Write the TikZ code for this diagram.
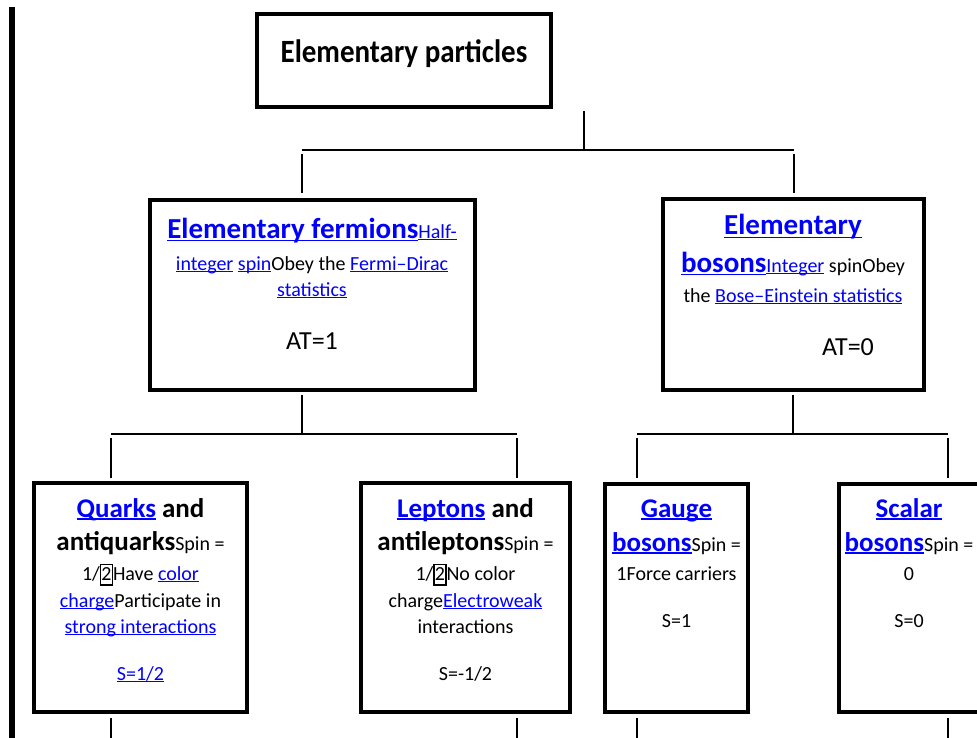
\documentclass[tikz,border=0pt]{standalone}
\usepackage{fontspec}
\setmainfont{Carlito}
\usepackage{graphicx}
\definecolor{linkblue}{RGB}{0,0,255}
\newsavebox{\lnkbox}
\newcommand{\headfont}{\fontsize{27}{32}\selectfont\bfseries}
\newcommand{\topfont}{\fontsize{29}{34}\selectfont\bfseries}
\newcommand{\hlink}[1]{\textcolor{linkblue}{\sbox{\lnkbox}{#1}\rlap{\rule[-0.12em]{\wd\lnkbox}{0.065em}}\usebox{\lnkbox}}}
\newcommand{\hhead}[1]{{\headfont\hlink{#1}}}
\newcommand{\htop}[1]{{\topfont\hlink{#1}}}
\newcommand{\hbold}[1]{{\headfont #1}}
\newcommand{\halfbox}{{\setlength{\fboxsep}{0.3pt}\setlength{\fboxrule}{1.2pt}\fbox{\rule[-4pt]{0pt}{19pt}2}}}

\begin{document}
\begin{tikzpicture}[x=1pt,y=-1pt,
    box/.style={draw,line width=4pt,inner sep=0pt},
    txt/.style={anchor=base,inner sep=0pt,font=\fontsize{20}{24}\selectfont},
    big/.style={txt,font=\fontsize{26}{30}\selectfont},
    conn/.style={line width=1.6pt}]
  \useasboundingbox (0,0) rectangle (977,738);
  \draw[line width=6.5pt] (12,7) -- (12,738);

  % boxes
  \node[box,minimum width=294pt,minimum height=93pt] (root) at (404,60.5) {};
  \node[box,minimum width=325pt,minimum height=190pt] (fermions) at (312.5,295) {};
  \node[box,minimum width=261pt,minimum height=191pt] (bosons) at (793.5,294.5) {};
  \node[box,minimum width=213pt,minimum height=229pt] (quarks) at (140.5,597.5) {};
  \node[box,minimum width=209pt,minimum height=229pt] (leptons) at (465.5,597.5) {};
  \node[box,minimum width=143pt,minimum height=228pt] (gauge) at (676.5,598) {};
  \node[box,minimum width=140pt,minimum height=228pt] (scalar) at (909,598) {};

  % texts
  \node[txt] (roottxt) at (404,63) {\scalebox{1}[1.12]{{\topfont Elementary particles}}};

  \node[txt] (fe1) at (312,238) {\htop{Elementary fermions}\hlink{Half-}};
  \node[txt] (fe2) at (312,270) {\hlink{integer} \hlink{spin}Obey the \hlink{Fermi–Dirac}};
  \node[txt] (fe3) at (312,296) {\hlink{statistics}};
  \node[big] (fe4) at (312,349) {AT=1};

  \node[txt] (bo1) at (793,235) {\htop{Elementary}};
  \node[txt] (bo2) at (793,272) {\htop{bosons}\hlink{Integer} spinObey};
  \node[txt] (bo3) at (793,302) {the \hlink{Bose–Einstein statistics}};
  \node[big] (bo4) at (848,355) {AT=0};

  \node[txt] (qu1) at (140.5,517) {\hhead{Quarks}\hbold{ and}};
  \node[txt] (qu2) at (140.5,550) {\hbold{antiquarks}Spin =};
  \node[txt] (qu3) at (140.5,580) {1/\halfbox Have \hlink{color}};
  \node[txt] (qu4) at (140.5,607) {\hlink{charge}Participate in};
  \node[txt] (qu5) at (140.5,633) {\hlink{strong interactions}};
  \node[txt] (qu6) at (140.5,680) {\hlink{S=1/2}};

  \node[txt] (le1) at (465.5,517) {\hhead{Leptons}\hbold{ and}};
  \node[txt] (le2) at (465.5,550) {\hbold{antileptons}Spin =};
  \node[txt] (le3) at (465.5,580) {1/\halfbox No color};
  \node[txt] (le4) at (465.5,607) {charge\hlink{Electroweak}};
  \node[txt] (le5) at (465.5,633) {interactions};
  \node[txt] (le6) at (465.5,680) {S=-1/2};

  \node[txt] (ga1) at (676.5,517) {\hhead{Gauge}};
  \node[txt] (ga2) at (676.5,551) {\hhead{bosons}Spin =};
  \node[txt] (ga3) at (676.5,580) {1Force carriers};
  \node[txt] (ga4) at (676.5,627) {S=1};

  \node[txt] (sc1) at (909,517) {\hhead{Scalar}};
  \node[txt] (sc2) at (909,551) {\hhead{bosons}Spin =};
  \node[txt] (sc3) at (909,580) {0};
  \node[txt] (sc4) at (909,627) {S=0};

  % tree lines
  \coordinate (rootstub) at (584,111);
  \coordinate (rootbar) at (584,150);
  \coordinate (rl) at (302,150);
  \coordinate (rr) at (794,150);
  \coordinate (fbar) at (302,434);
  \coordinate (fl) at (111,434);
  \coordinate (fr) at (517,434);
  \coordinate (bbar) at (793,434);
  \coordinate (bl) at (637,434);
  \coordinate (br) at (948,434);

  \draw[conn] (rootstub) -- (rootbar);
  \draw[conn] (rl) -- (rr);
  \draw[conn] (rl) ++(0,4) -- ++(0,39);
  \draw[conn] (rr) ++(0,4) -- ++(0,39);
  \draw[conn] (fbar) ++(0,-39) -- (fbar);
  \draw[conn] (fl) -- (fr);
  \draw[conn] (bbar) ++(0,-39) -- (bbar);
  \draw[conn] (bl) -- (br);
  \foreach \c in {fl,fr,bl,br} {
    \draw[conn] (\c) ++(0,4) -- ++(0,40);
    \draw[conn] (\c) ++(0,284) -- ++(0,30);
  }
\end{tikzpicture}
\end{document}
